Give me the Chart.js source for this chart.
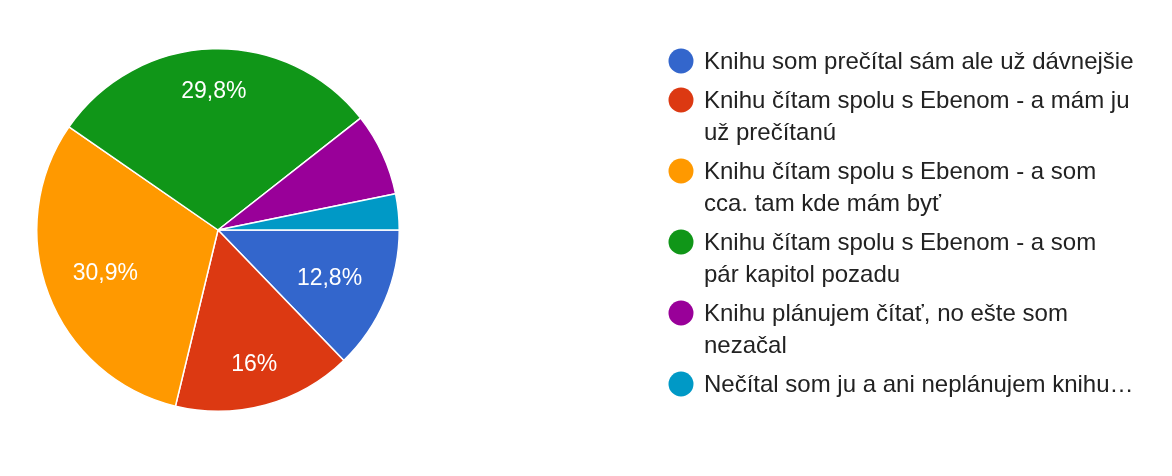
<!DOCTYPE html>
<html>
<head>
<meta charset="utf-8">
<script src="https://cdn.jsdelivr.net/npm/chart.js@4/dist/chart.umd.min.js"></script>
<style>
  body { margin: 0; background: #fff; }
  canvas { display: block; }
</style>
</head>
<body>
<canvas id="myChart" width="1172" height="476"></canvas>
<script>
// answers (legend lines, wrapped like the original)
const answerLines = [
  ["Knihu som prečítal sám ale už dávnejšie"],
  ["Knihu čítam spolu s Ebenom - a mám ju", "už prečítanú"],
  ["Knihu čítam spolu s Ebenom - a som", "cca. tam kde mám byť"],
  ["Knihu čítam spolu s Ebenom - a som", "pár kapitol pozadu"],
  ["Knihu plánujem čítať, no ešte som", "nezačal"],
  ["Nečítal som ju a ani neplánujem knihu…"]
];
const percentValues = [12.8, 16, 30.9, 29.8, 7.4, 3.2];
const sliceColors = ["#3366cc", "#dc3912", "#ff9900", "#109618", "#990099", "#0099c6"];

const fontFamily = "'Liberation Sans', Arial, sans-serif";

function formatPercent(v) {
  return String(Math.round(v * 10) / 10).replace(".", ",") + "%";
}

// white percent labels inside the bigger slices
const sliceLabels = {
  id: "sliceLabels",
  afterDatasetsDraw(chart) {
    const ctx = chart.ctx;
    const meta = chart.getDatasetMeta(0);
    ctx.save();
    ctx.fillStyle = "#ffffff";
    ctx.font = "23px " + fontFamily;
    ctx.textAlign = "center";
    ctx.textBaseline = "middle";
    meta.data.forEach((arc, i) => {
      const v = percentValues[i];
      if (v < 10) return;
      const p = arc.getProps(["x", "y", "startAngle", "endAngle", "outerRadius"], true);
      const mid = (p.startAngle + p.endAngle) / 2;
      const s = Math.sin(mid);
      const d = p.outerRadius * (0.65 + 0.12 * s * s);
      ctx.fillText(formatPercent(v), p.x + Math.cos(mid) * d, p.y + Math.sin(mid) * d + 1);
    });
    ctx.restore();
  }
};

// legend on the right, circle markers and wrapped text
const sideLegend = {
  id: "sideLegend",
  afterDraw(chart) {
    const ctx = chart.ctx;
    ctx.save();
    ctx.font = "24px " + fontFamily;
    ctx.textBaseline = "middle";
    ctx.textAlign = "left";
    let y = 61;
    answerLines.forEach((lines, i) => {
      ctx.fillStyle = sliceColors[i];
      ctx.beginPath();
      ctx.arc(681, y, 12.5, 0, Math.PI * 2);
      ctx.fill();
      ctx.fillStyle = "#222222";
      lines.forEach((line, j) => {
        ctx.fillText(line, 704, y + 1);
        if (j < lines.length - 1) y += 32;
      });
      y += 39;
    });
    ctx.restore();
  }
};

const config = {
  type: "pie",
  data: {
    labels: answerLines.map(l => l.join(" ")),
    datasets: [
      {
        data: percentValues,
        backgroundColor: sliceColors,
        borderColor: "#ffffff",
        borderWidth: 1.5,
      },
    ],
  },
  options: {
    responsive: false,
    animation: false,
    events: [],
    rotation: 90,
    layout: { padding: { left: 36, right: 772, top: 48, bottom: 64 } },
    plugins: {
      legend: { display: false },
      tooltip: { enabled: false },
    },
  },
  plugins: [sliceLabels, sideLegend],
};

const myChart = new Chart(document.getElementById("myChart"), config);
</script>
</body>
</html>
